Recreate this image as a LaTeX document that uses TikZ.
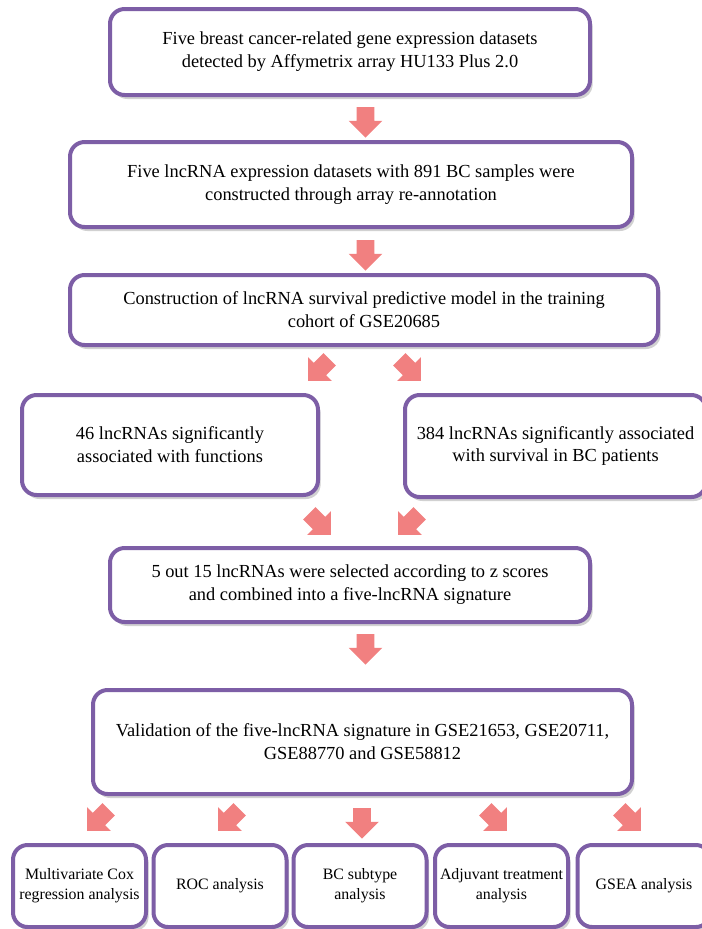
\documentclass[tikz,border=0pt]{standalone}
\usepackage{fontspec}
\setmainfont{Liberation Serif}
\usetikzlibrary{shapes.arrows,shadows}

\definecolor{boxpurple}{RGB}{125,94,166}
\definecolor{arrowpink}{RGB}{241,128,128}

\begin{document}
\begin{tikzpicture}[x=0.75pt,y=0.75pt,yscale=-1,xscale=1,
  stepbox/.style={draw=boxpurple,line width=3pt,rounded corners=11pt,fill=white,
    drop shadow={shadow xshift=2pt,shadow yshift=-3pt,opacity=0.18,fill=black},
    align=center,inner sep=0pt,font=\fontsize{13.8}{17.2}\selectfont},
  smallbox/.style={stepbox,font=\fontsize{11.9}{15}\selectfont},
  blockarrow/.style={single arrow,fill=arrowpink,draw=none,inner sep=0pt,
    inner ysep=6.4pt,minimum height=23pt,single arrow head extend=6pt}]
%set diagram to the size of the figure
\useasboundingbox (0,0) rectangle (702,929);

% Boxes
\draw (350,52) node [stepbox,minimum width=360pt,minimum height=64.5pt] (data) {Five breast cancer-related gene expression datasets\\ detected by Affymetrix array HU133 Plus 2.0};
\draw (351,184.5) node [stepbox,minimum width=421.5pt,minimum height=63.75pt] (lncdata) {Five lncRNA expression datasets with 891 BC samples were\\ constructed through array re-annotation};
\draw (364,310) node [stepbox,minimum width=441pt,minimum height=52.5pt] (model) {Construction of lncRNA survival predictive model in the training\\ cohort of GSE20685};
\draw (170,445) node [stepbox,minimum width=222pt,minimum height=75pt] (func) {46 lncRNAs significantly\\ associated with functions};
\draw (555.5,446) node [stepbox,minimum width=225.75pt,minimum height=76.5pt] (surv) {384 lncRNAs significantly associated\\ with survival in BC patients};
\draw (350,585) node [stepbox,minimum width=360pt,minimum height=55.5pt] (sig) {5 out 15 lncRNAs were selected according to z scores\\ and combined into a five-lncRNA signature};
\draw (362.5,742) node [stepbox,minimum width=404.25pt,minimum height=78pt] (valid) {Validation of the five-lncRNA signature in GSE21653, GSE20711,\\ GSE88770 and GSE58812};

% Analysis boxes
\draw (79.5,886) node [smallbox,minimum width=99.75pt,minimum height=61.5pt] (cox) {Multivariate Cox\\ regression analysis};
\draw (220,886) node [smallbox,minimum width=99.75pt,minimum height=61.5pt] (roc) {ROC analysis};
\draw (360,886) node [smallbox,minimum width=99.75pt,minimum height=61.5pt] (subtype) {BC subtype\\ analysis};
\draw (501.5,886) node [smallbox,minimum width=99.75pt,minimum height=61.5pt] (adjuvant) {Adjuvant treatment\\ analysis};
\draw (644,886) node [smallbox,minimum width=99.75pt,minimum height=61.5pt] (gsea) {GSEA analysis};

% Arrows
\draw (365.5,118) node [blockarrow,rotate=-90] (a1) {};
\draw (365.5,251) node [blockarrow,rotate=-90] (a2) {};
\draw (322,367) node [blockarrow,rotate=-135] (a3) {};
\draw (407,367) node [blockarrow,rotate=-45] (a4) {};
\draw (317,521) node [blockarrow,rotate=-45] (a5) {};
\draw (412,521) node [blockarrow,rotate=-135] (a6) {};
\draw (365.5,645) node [blockarrow,rotate=-90] (a7) {};
\draw (101,817) node [blockarrow,rotate=-135] (a8) {};
\draw (232,817) node [blockarrow,rotate=-135] (a9) {};
\draw (362,819) node [blockarrow,rotate=-90] (a10) {};
\draw (493,817) node [blockarrow,rotate=-45] (a11) {};
\draw (627,817) node [blockarrow,rotate=-45] (a12) {};

\end{tikzpicture}
\end{document}
